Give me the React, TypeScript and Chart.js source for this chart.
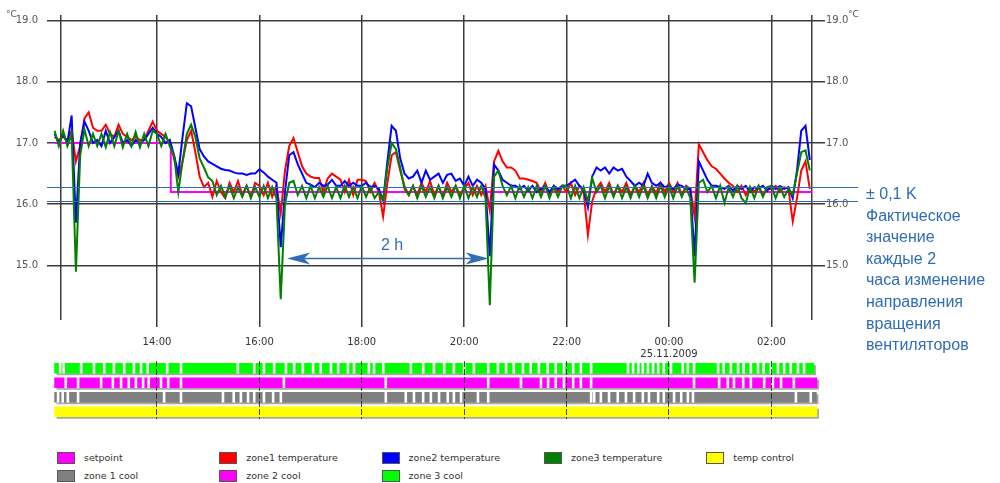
import React, { useEffect, useRef } from 'react';
import { Chart, registerables } from 'chart.js';

Chart.register(...registerables);

// ---------- time axis ----------
const START_HOUR = 12; // 24.11.2009 12:00
const STEP_MIN = 5;
const X_MIN = 11.852;
const X_MAX = 27.047;
const xTickHours = [14, 16, 18, 20, 22, 24, 26];
const xTickLabels = ['14:00', '16:00', '18:00', '20:00', '22:00', '00:00', '02:00'];
const dateLabel = '25.11.2009';
const axisEdgeHours = [12.125, 26.79];

// ---------- value axis ----------
const Y_MIN = 14.11;
const Y_MAX = 19.09;
const yTicks = [15, 16, 17, 18, 19];

// ---------- series (5 min samples from 12:00) ----------
const zone1Temp = [
  17.1, 17.05, 17.1, 17.05, 17.2, 16.7, 16.95, 17.4, 17.5, 17.25, 17.2, 17.2,
  17.3, 17.15, 17.1, 17.3, 17.15, 17.1, 17.05, 17.1, 17.05, 17.05, 17.2, 17.35,
  17.2, 17.15, 17.1, 17.0, 16.75, 16.45, 16.7, 17.05, 17.2, 16.85, 16.45, 16.28,
  16.35, 16.12, 16.38, 16.2, 16.1, 16.35, 16.2, 16.38, 16.15, 16.3, 16.12, 16.35,
  16.3, 16.15, 16.35, 16.12, 16.3, 15.85, 16.55, 16.95, 17.08, 16.85, 16.62, 16.5,
  16.45, 16.43, 16.43, 16.2, 16.42, 16.5, 16.45, 16.4, 16.2, 16.4, 16.15, 16.4,
  16.4, 16.38, 16.2, 16.35, 16.2, 15.8, 16.35, 16.8, 16.85, 16.55, 16.3, 16.15,
  16.3, 16.15, 16.35, 16.2, 16.38, 16.15, 16.3, 16.12, 16.35, 16.2, 16.3, 16.15,
  16.25, 16.35, 16.15, 16.3, 16.15, 16.3, 15.9, 16.7, 16.87, 16.7, 16.6, 16.6,
  16.55, 16.42, 16.42, 16.4, 16.38, 16.35, 16.2, 16.35, 16.15, 16.3, 16.2, 16.3,
  16.2, 16.35, 16.15, 16.3, 16.2, 15.5, 16.05, 16.25, 16.35, 16.2, 16.35, 16.15,
  16.3, 16.2, 16.35, 16.15, 16.3, 16.2, 16.35, 16.15, 16.3, 16.18, 16.35, 16.2,
  16.35, 16.2, 16.35, 16.15, 16.3, 16.25, 15.8, 16.98, 16.85, 16.72, 16.62, 16.58,
  16.5, 16.42, 16.35, 16.3, 16.2, 16.3, 16.15, 16.28, 16.2, 16.3, 16.15, 16.25,
  16.25, 16.3, 16.2, 16.28, 16.25, 15.72, 16.1, 16.55, 16.7, 16.25,
];

const zone2Temp = [
  17.15, 17.0, 17.15, 17.0, 17.45, 15.7, 17.0, 17.35, 17.2, 17.0, 17.05, 16.95,
  17.2, 17.0, 17.1, 17.2, 17.0, 17.05, 16.95, 17.05, 17.0, 17.05, 17.15, 17.25,
  17.15, 17.1, 17.0, 17.05, 16.8, 16.5, 17.1, 17.65, 17.6, 17.25, 16.9, 16.78,
  16.7, 16.66, 16.62, 16.58, 16.56, 16.55, 16.52, 16.5, 16.5, 16.48, 16.5, 16.5,
  16.57, 16.52, 16.45, 16.4, 16.35, 15.3, 16.2, 16.8, 16.85, 16.65, 16.5, 16.35,
  16.32, 16.28, 16.35, 16.3, 16.32, 16.4, 16.3, 16.3, 16.38, 16.3, 16.35, 16.3,
  16.3, 16.35, 16.28, 16.3, 16.25, 16.06, 16.7, 17.28, 17.2, 16.75, 16.5, 16.42,
  16.45, 16.55, 16.35, 16.55, 16.4, 16.45, 16.5, 16.35, 16.48, 16.5, 16.38, 16.42,
  16.3, 16.45, 16.3, 16.4, 16.35, 16.25, 15.15, 16.65, 16.55, 16.4, 16.35, 16.3,
  16.3, 16.25, 16.3, 16.22, 16.3, 16.2, 16.25, 16.3, 16.2, 16.3, 16.25, 16.3,
  16.3, 16.35, 16.4, 16.3, 16.25, 15.95, 16.45, 16.6, 16.55, 16.6, 16.5, 16.6,
  16.55, 16.58, 16.45, 16.38, 16.3, 16.35, 16.3, 16.5, 16.35, 16.3, 16.35, 16.28,
  16.3, 16.25, 16.32, 16.3, 16.25, 16.25, 15.15, 16.7, 16.55, 16.4, 16.3, 16.3,
  16.28, 16.25, 16.3, 16.22, 16.3, 16.25, 16.3, 16.2, 16.28, 16.25, 16.3, 16.22,
  16.3, 16.25, 16.3, 16.25, 16.28, 16.1, 16.55, 17.2, 17.28, 16.72,
];

const zone3Temp = [
  17.2, 16.95, 17.2, 16.95, 17.15, 14.9, 16.8, 17.22, 16.95, 17.15, 16.95, 17.15,
  16.93, 17.18, 16.95, 17.2, 16.93, 17.15, 16.95, 17.18, 16.93, 17.15, 16.95, 17.2,
  17.15, 16.95, 17.15, 16.95, 16.8, 16.2, 16.7, 17.15, 17.3, 17.1, 16.75, 16.6,
  16.44, 16.38, 16.15, 16.3, 16.12, 16.3, 16.1, 16.28, 16.12, 16.3, 16.1, 16.28,
  16.12, 16.3, 16.1, 16.28, 16.1, 14.45, 16.0, 16.35, 16.38, 16.15, 16.3, 16.1,
  16.3, 16.1, 16.28, 16.12, 16.3, 16.1, 16.28, 16.1, 16.3, 16.12, 16.28, 16.1,
  16.3, 16.12, 16.28, 16.1, 16.2, 16.06, 16.6, 17.0, 16.9, 16.6, 16.25, 16.15,
  16.3, 16.1, 16.3, 16.12, 16.28, 16.1, 16.3, 16.1, 16.28, 16.12, 16.3, 16.1,
  16.3, 16.1, 16.28, 16.12, 16.3, 16.1, 14.35, 16.45, 16.55, 16.3, 16.15, 16.3,
  16.1, 16.3, 16.12, 16.28, 16.1, 16.3, 16.12, 16.3, 16.1, 16.28, 16.12, 16.3,
  16.3, 16.1, 16.3, 16.1, 16.28, 16.05, 16.43, 16.2, 16.3, 16.1, 16.3, 16.12,
  16.3, 16.1, 16.28, 16.1, 16.3, 16.12, 16.3, 16.1, 16.28, 16.1, 16.3, 16.12,
  16.3, 16.1, 16.3, 16.12, 16.28, 16.1, 14.72, 16.35, 16.4, 16.2, 16.3, 16.1,
  16.3, 16.02, 16.28, 16.12, 16.3, 16.1, 16.02, 16.28, 16.1, 16.3, 16.12, 16.28,
  16.3, 16.1, 16.28, 16.12, 16.25, 16.15, 16.5, 16.85, 16.88, 16.55,
];

const setpointHours = [12.0, 14.27, 26.79];
const setpointValues = [17.0, 16.2, 16.2];

// ---------- annotations ----------
const bandValues = [16.28, 16.06];
const arrowHours = [16.54, 20.48];
const arrowValue = 15.12;
const arrowText = '2 h';
const noteLines = [
  '± 0,1 K',
  'Фактическое',
  'значение',
  'каждые 2',
  'часа изменение',
  'направления',
  'вращения',
  'вентиляторов',
];

// ---------- status rows ----------
const statusRows = ['zone 3 cool', 'zone 2 cool', 'zone 1 cool', 'temp control'];
const statusColors = ['#00ff00', '#ff00ff', '#808080', '#ffff00'];
const statusStart = [12.0, 12.0, 12.0, 12.0];
const statusEnd = [26.83, 26.89, 26.88, 26.89];
const zone3CoolGaps = [
  12.09, 12.16, 12.5, 12.75, 12.95, 13.14, 13.34, 13.53, 13.67, 13.8, 14.18, 14.45,
  15.56, 15.88, 16.07, 16.27, 16.5, 16.66, 16.83, 17.03, 17.18, 17.38, 17.52, 17.71,
  17.83, 18.12, 18.22, 18.4, 18.94, 19.18, 19.39, 19.59, 19.78, 19.98, 20.17, 20.45,
  20.64, 20.8, 20.95, 21.13, 21.28, 21.44, 21.61, 21.77, 21.93, 22.11, 22.26, 22.46,
  23.18, 23.28, 23.38, 23.47, 23.57, 23.67, 23.77, 23.88, 24.02, 24.25, 24.35, 24.47,
  24.94, 25.05, 25.19, 25.33, 25.44, 25.58, 25.72, 25.83, 25.97, 26.11, 26.23, 26.36,
  26.5, 26.62,
];
const zone2CoolGaps = [
  12.2, 12.44, 12.89, 13.12, 13.28, 13.43, 13.57, 13.71, 13.82, 14.06, 14.2, 14.45,
  16.46, 18.45, 20.45, 21.09, 21.48, 21.62, 21.77, 21.93, 22.11, 22.26, 22.46, 24.47,
  24.96, 25.13, 25.25, 25.43, 25.58, 25.84, 26.01, 26.17, 26.42,
];
const zone1CoolGaps = [
  12.05, 12.14, 12.24, 12.44, 14.12, 14.45, 15.27, 15.48, 15.62, 15.76, 15.88, 16.07,
  16.25, 16.4, 18.45, 18.84, 19.0, 19.18, 19.33, 19.49, 19.66, 19.78, 19.92, 20.25,
  20.45, 22.46, 22.52, 22.65, 22.81, 22.98, 23.14, 23.3, 23.47, 23.59, 23.77, 23.88,
  24.08, 24.22, 24.35, 24.45, 26.46, 26.75,
];
const tempControlGaps: number[] = [];
const GAP_H = 0.038;

// ---------- legend ----------
const legendLabels = [
  'setpoint', 'zone1 temperature', 'zone2 temperature', 'zone3 temperature', 'temp control',
  'zone 1 cool', 'zone 2 cool', 'zone 3 cool',
];
const legendColors = [
  '#ff00ff', '#ff0000', '#0000ff', '#008000', '#ffff00',
  '#808080', '#ff00ff', '#00ff00',
];

const GRID = '#3c3c3c';
const ANNOT = '#2f6db5';
const SMALL_FONT = "'DejaVu Sans', Verdana, sans-serif";
const NOTE_FONT = "'Liberation Sans', Arial, sans-serif";

const toPoints = (vals: number[]) =>
  vals.map((v, i) => ({ x: START_HOUR + (i * STEP_MIN) / 60, y: v }));

const overlayPlugin = {
  id: 'overlay',
  afterDatasetsDraw(chart: any) {
    const { ctx, chartArea, scales } = chart;
    const xs = scales.x;
    const ys = scales.y;
    ctx.save();
    ctx.strokeStyle = ANNOT;
    ctx.lineWidth = 1.2;
    bandValues.forEach((v) => {
      const py = Math.round(ys.getPixelForValue(v)) + 0.5;
      ctx.beginPath();
      ctx.moveTo(chartArea.left, py);
      ctx.lineTo(chartArea.right + 33, py);
      ctx.stroke();
    });
    const ay = Math.round(ys.getPixelForValue(arrowValue)) + 0.5;
    const x1 = xs.getPixelForValue(arrowHours[0]);
    const x2 = xs.getPixelForValue(arrowHours[1]);
    ctx.lineWidth = 1.5;
    ctx.beginPath();
    ctx.moveTo(x1 + 12, ay);
    ctx.lineTo(x2 - 12, ay);
    ctx.stroke();
    ctx.fillStyle = ANNOT;
    const head = (x: number, dir: number) => {
      ctx.beginPath();
      ctx.moveTo(x, ay);
      ctx.lineTo(x + dir * 23, ay - 6);
      ctx.lineTo(x + dir * 17, ay);
      ctx.lineTo(x + dir * 23, ay + 6);
      ctx.closePath();
      ctx.fill();
    };
    head(x1, 1);
    head(x2, -1);
    ctx.restore();
  },
};

// soft shadow under every status row, taken from the drawn row bars
const rowShadowPlugin = {
  id: 'rowShadow',
  beforeDatasetsDraw(chart: any) {
    const meta = chart.getDatasetMeta(1);
    const { ctx } = chart;
    ctx.save();
    ctx.fillStyle = '#a8a8a8';
    meta.data.forEach((el: any) => {
      const left = Math.min(el.base, el.x);
      const right = Math.max(el.base, el.x);
      ctx.fillRect(left + 2, el.y - el.height / 2 + 2, right - left, el.height);
    });
    ctx.restore();
  },
};

export default function App() {
  const mainRef = useRef<HTMLCanvasElement>(null);
  const statusRef = useRef<HTMLCanvasElement>(null);

  useEffect(() => {
    const tickFont = { family: SMALL_FONT, size: 10 };
    const yAxisCommon = {
      type: 'linear' as const,
      min: Y_MIN,
      max: Y_MAX,
      afterBuildTicks: (s: any) => {
        s.ticks = yTicks.map((v) => ({ value: v }));
      },
      border: { display: false },
    };

    const main = new Chart(mainRef.current as HTMLCanvasElement, {
      type: 'line',
      data: {
        datasets: [
          { label: 'zone3 temperature', data: toPoints(zone3Temp), borderColor: '#008000', order: 0 },
          { label: 'zone2 temperature', data: toPoints(zone2Temp), borderColor: '#0000ff', order: 1 },
          { label: 'zone1 temperature', data: toPoints(zone1Temp), borderColor: '#ff0000', order: 2 },
          {
            label: 'setpoint',
            data: setpointHours.map((h, i) => ({ x: h, y: setpointValues[i] })),
            borderColor: '#ff00ff',
            stepped: true,
            order: 3,
          },
        ] as any,
      },
      options: {
        responsive: false,
        animation: false,
        layout: { padding: { top: 15, left: 0, right: 0, bottom: 0 } },
        plugins: { legend: { display: false }, tooltip: { enabled: false } },
        elements: {
          point: { radius: 0 },
          line: { tension: 0, borderWidth: 2, fill: false },
        },
        scales: {
          x: {
            type: 'linear',
            min: X_MIN,
            max: X_MAX,
            afterBuildTicks: (s: any) => {
              s.ticks = [axisEdgeHours[0], ...xTickHours, axisEdgeHours[1]].map((v) => ({ value: v }));
            },
            afterFit: (s: any) => {
              s.height = 40;
            },
            ticks: {
              autoSkip: false,
              maxRotation: 0,
              padding: 9,
              color: '#333',
              font: tickFont,
              callback: (v: any) => {
                const idx = xTickHours.indexOf(Number(v));
                if (idx < 0) return '';
                return xTickHours[idx] === 24 ? [xTickLabels[idx], dateLabel] : xTickLabels[idx];
              },
            },
            grid: {
              color: GRID,
              lineWidth: 1.5,
              drawTicks: true,
              tickLength: 7,
              tickColor: (c: any) =>
                c.tick && axisEdgeHours.includes(c.tick.value) ? 'rgba(0,0,0,0)' : GRID,
            },
            border: { display: false },
          },
          y: {
            ...yAxisCommon,
            position: 'left',
            afterFit: (s: any) => {
              s.width = 47;
            },
            ticks: {
              padding: 9,
              color: '#555',
              font: tickFont,
              callback: (v: any) => Number(v).toFixed(1),
            },
            grid: { color: GRID, lineWidth: 1.5, drawTicks: false },
          },
          y2: {
            ...yAxisCommon,
            position: 'right',
            afterFit: (s: any) => {
              s.width = 175;
            },
            ticks: {
              padding: 1,
              color: '#555',
              font: tickFont,
              callback: (v: any) => Number(v).toFixed(1),
            },
            grid: { display: false, drawTicks: false },
          },
        },
      } as any,
      plugins: [overlayPlugin],
    });

    const gapSets = [zone3CoolGaps, zone2CoolGaps, zone1CoolGaps, tempControlGaps];
    const gapData: any[] = [];
    gapSets.forEach((gaps, r) => {
      gaps.forEach((g) => gapData.push({ x: [g, g + GAP_H], y: statusRows[r] }));
    });
    const spanData = statusRows.map((row, r) => ({ x: [statusStart[r], statusEnd[r]], y: row }));

    const status = new Chart(statusRef.current as HTMLCanvasElement, {
      type: 'bar',
      data: {
        labels: statusRows,
        datasets: [
          { label: 'off', data: gapData, backgroundColor: '#ffffff', grouped: false, barThickness: 10, order: 0 },
          { label: 'on', data: spanData, backgroundColor: statusColors, grouped: false, barThickness: 10, order: 1 },
        ] as any,
      },
      options: {
        indexAxis: 'y',
        responsive: false,
        animation: false,
        layout: { padding: { left: 47, right: 175, top: 0, bottom: 0 } },
        plugins: { legend: { display: false }, tooltip: { enabled: false } },
        scales: {
          x: {
            type: 'linear',
            min: X_MIN,
            max: X_MAX,
            afterBuildTicks: (s: any) => {
              s.ticks = xTickHours.map((v) => ({ value: v }));
            },
            afterFit: (s: any) => {
              s.height = 0;
            },
            ticks: { display: false },
            grid: { color: 'rgba(40,40,40,0.85)', lineWidth: 1, drawTicks: false, z: 1 },
            border: { display: false, dash: [6, 2] },
          },
          y: { type: 'category', display: false, offset: true },
        },
      } as any,
      plugins: [rowShadowPlugin],
    });

    return () => {
      main.destroy();
      status.destroy();
    };
  }, []);

  return (
    <div
      style={{
        position: 'absolute',
        left: 0,
        top: 0,
        width: 1000,
        height: 483,
        background: '#fff',
        overflow: 'hidden',
      }}
    >
      <canvas ref={mainRef} width={1000} height={360} style={{ position: 'absolute', left: 0, top: 0 }} />
      <canvas ref={statusRef} width={1000} height={58} style={{ position: 'absolute', left: 0, top: 361 }} />

      <div style={{ position: 'absolute', left: 6, top: 9, fontFamily: SMALL_FONT, fontSize: 9, color: '#555' }}>°C</div>
      <div style={{ position: 'absolute', left: 848, top: 9, fontFamily: SMALL_FONT, fontSize: 9, color: '#555' }}>°C</div>

      <div
        style={{
          position: 'absolute',
          left: 381,
          top: 236,
          fontFamily: NOTE_FONT,
          fontSize: 16,
          lineHeight: '18px',
          color: ANNOT,
          whiteSpace: 'nowrap',
        }}
      >
        {arrowText}
      </div>

      <div
        style={{
          position: 'absolute',
          left: 866,
          top: 183,
          fontFamily: NOTE_FONT,
          fontSize: 16,
          lineHeight: '21.6px',
          color: ANNOT,
          whiteSpace: 'nowrap',
        }}
      >
        {noteLines.map((t, i) => (
          <div key={i}>{t}</div>
        ))}
      </div>

      {legendLabels.map((label, i) => {
        const col = i % 5;
        const row = Math.floor(i / 5);
        const left = 57 + col * 162.3;
        const top = 452 + row * 18;
        return (
          <div key={label + i} style={{ position: 'absolute', left, top, height: 12 }}>
            <div
              style={{
                position: 'absolute',
                left: 0,
                top: 0,
                width: 18,
                height: 12,
                boxSizing: 'border-box',
                border: '1px solid #555',
                background: legendColors[i],
              }}
            />
            <div
              style={{
                position: 'absolute',
                left: 27,
                top: -1,
                fontFamily: SMALL_FONT,
                fontSize: 9.5,
                lineHeight: '14px',
                color: '#333',
                whiteSpace: 'nowrap',
              }}
            >
              {label}
            </div>
          </div>
        );
      })}
    </div>
  );
}
